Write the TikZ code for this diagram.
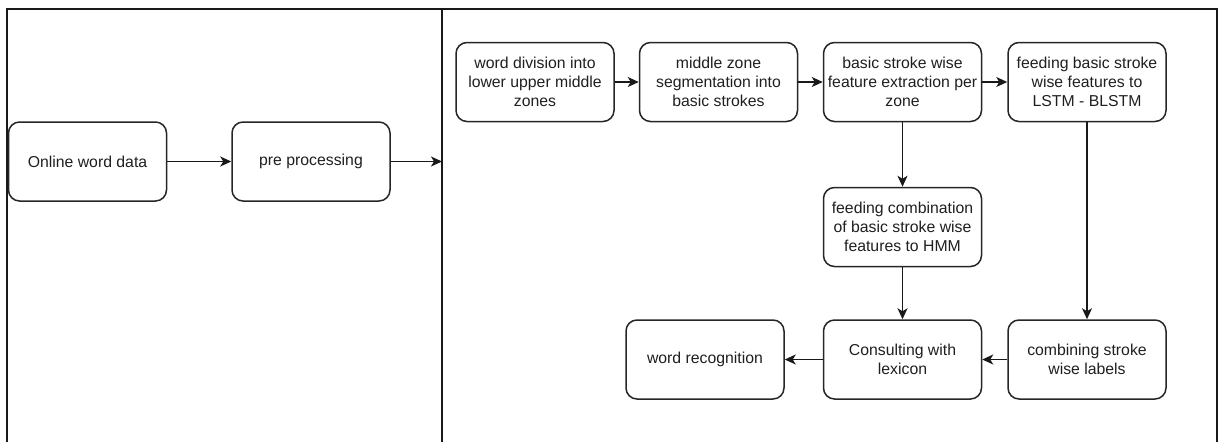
\documentclass[tikz,border=0pt]{standalone}
\usepackage{fontspec}
\setmainfont{Liberation Sans}
\usetikzlibrary{arrows.meta}
\begin{document}
\begin{tikzpicture}[x=1pt,y=-1pt,
  box/.style={draw=black!85, line width=1.5pt, rounded corners=11pt,
    minimum width=158pt, minimum height=79pt, inner sep=2pt,
    align=center, text=black!88,
    font=\fontsize{15.8}{19}\selectfont},
  arr/.style={line width=1.5pt, draw=black!90, -{Stealth[length=11pt,width=10pt,inset=3pt]}},
  frame/.style={line width=2pt, draw=black!90}]
\useasboundingbox (0,0) rectangle (1219,442);
% frame
\draw[frame] (7,442) -- (7,8.5) -- (1217,8.5) -- (1217,442);
\draw[frame] (442,8.5) -- (442,442);
\coordinate (div) at (442,161.5);
% left part
\node[box] (online) at (87.5,161.5) {Online word data};
\node[box] (pre) at (311,161.5) {pre processing};
% row 1
\node[box] (wd) at (535,82) {word division into\\lower upper middle\\zones};
\node[box] (mz) at (718.5,82) {middle zone\\segmentation into\\basic strokes};
\node[box] (bs) at (902.5,82) {basic stroke wise\\feature extraction per\\zone};
\node[box] (fb) at (1087,82) {feeding basic stroke\\wise features to\\LSTM - BLSTM};
% middle
\node[box] (fc) at (902.5,227) {feeding combination\\of basic stroke wise\\features to HMM};
% bottom
\node[box] (wr) at (705,359.5) {word recognition};
\node[box] (cl) at (902.5,359.5) {Consulting with\\lexicon};
\node[box] (cs) at (1087,359.5) {combining stroke\\wise labels};
% connectors
\draw[arr] (online) -- (pre);
\draw[arr] (pre.east) -- (div);
\draw[arr] (wd) -- (mz);
\draw[arr] (mz) -- (bs);
\draw[arr] (bs) -- (fb);
\draw[arr] (bs) -- (fc);
\draw[arr] (fb) -- (cs);
\draw[arr] (fc) -- (cl);
\draw[arr] (cs) -- (cl);
\draw[arr] (cl) -- (wr);
\end{tikzpicture}
\end{document}
